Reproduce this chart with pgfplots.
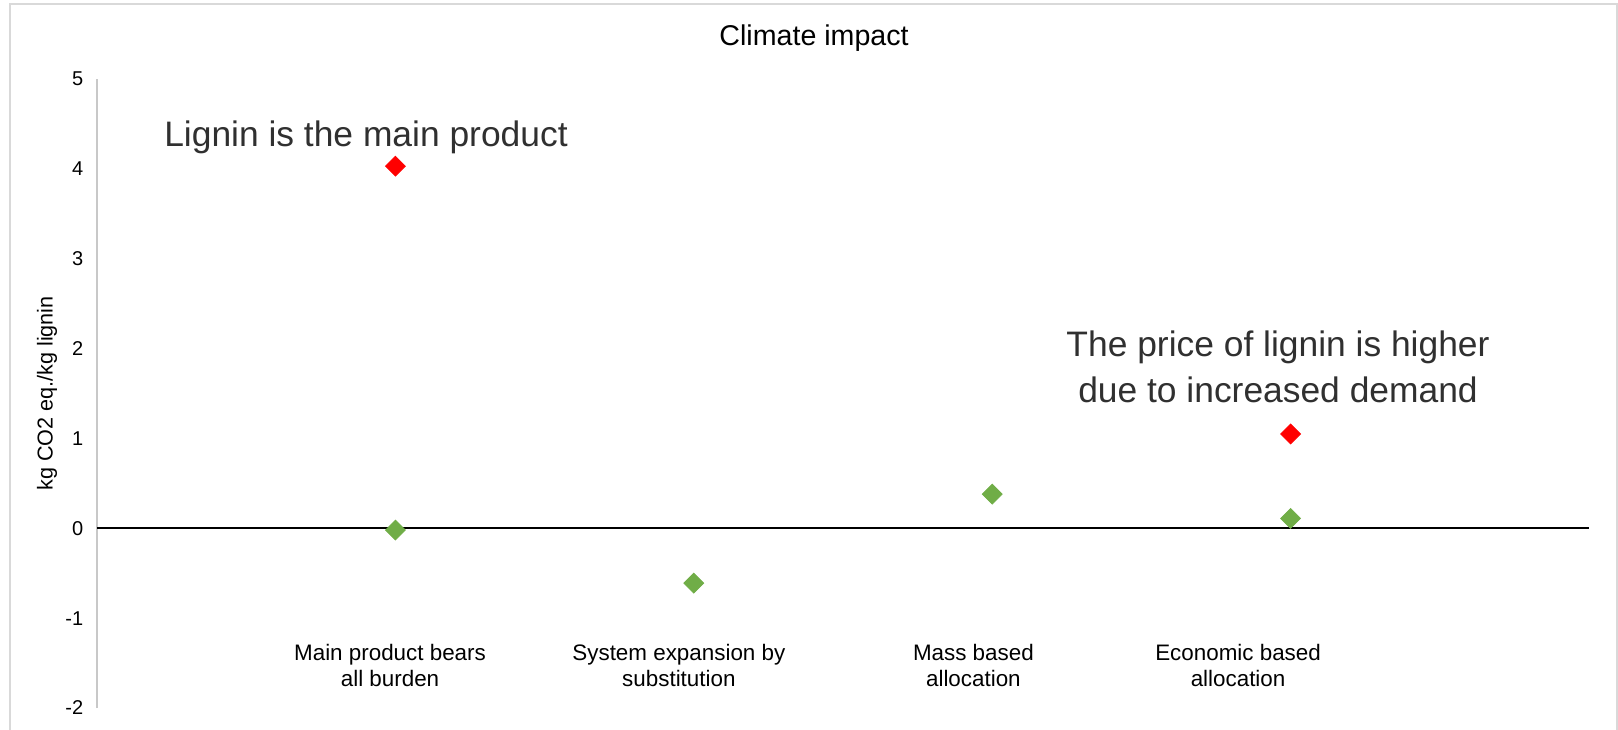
\documentclass[border=0pt]{standalone}
\usepackage{fontspec}
\setmainfont{Liberation Sans}
\usepackage{pgfplots}
\pgfplotsset{compat=1.18}
\definecolor{mgreen}{HTML}{70AD47}
\definecolor{mred}{HTML}{FF0000}
\definecolor{framec}{HTML}{D9D9D9}
\definecolor{ytax}{HTML}{C8C8C8}
\definecolor{annot}{HTML}{303030}
\begin{document}
\begin{tikzpicture}
\useasboundingbox (0,0) rectangle (809pt,364.5pt);
\draw[framec, line width=1pt] (5pt,-3pt) -- (5pt,362.5pt) -- (808.5pt,362.5pt) -- (808.5pt,-3pt);
\begin{axis}[
  at={(48.5pt,10.5pt)}, anchor=south west,
  scale only axis, width=746pt, height=314.5pt,
  xmin=0, xmax=5, ymin=-2, ymax=5,
  axis x line*=bottom, axis y line*=left,
  x axis line style={draw=none},
  y axis line style={ytax, line width=1pt},
  ytick={-2,-1,0,1,2,3,4,5},
  xtick={0.982,1.95,2.937,3.824},
  xticklabels={{Main product bears\\all burden},{System expansion by\\substitution},{Mass based\\allocation},{Economic based\\allocation}},
  major tick length=0pt,
  /pgf/number format/assume math mode=true,
  yticklabel style={font=\fontsize{10}{12}\selectfont, anchor=east, xshift=-3.4pt},
  xticklabel style={font=\fontsize{11.2}{13}\selectfont, align=center, anchor=center, yshift=21.5pt},
  ylabel={kg CO2 eq./kg lignin},
  ylabel style={font=\fontsize{10.8}{13}\selectfont, at={(axis description cs:-0.0335,0.5)}, anchor=center},
  title={Climate impact},
  every axis title shift=0pt,
  title style={font=\fontsize{14.3}{17}\selectfont, at={(axis description cs:0.4806,1.0525)}, anchor=base, yshift=0pt},
  clip=false,
]
\addplot[black, line width=1pt, forget plot] coordinates {(0,0) (5,0)};
\addplot[only marks, mark=square*, mark size=3.5pt, mark options={rotate=45, draw=mgreen, fill=mgreen}] coordinates {
(1,-0.02) (2,-0.61) (3,0.38) (4,0.11)
};
\addplot[only marks, mark=square*, mark size=3.5pt, mark options={rotate=45, draw=mred, fill=mred}] coordinates {
(1,4.03) (4,1.05)
};
\end{axis}
\node[anchor=base, text=annot, font=\fontsize{17.7}{21}\selectfont, inner sep=0pt] at (183pt,291pt) {Lignin is the main product};
\node[anchor=base, text=annot, font=\fontsize{17.7}{21}\selectfont, inner sep=0pt] at (639pt,186pt) {The price of lignin is higher};
\node[anchor=base, text=annot, font=\fontsize{17.7}{21}\selectfont, inner sep=0pt] at (639pt,163pt) {due to increased demand};
\end{tikzpicture}
\end{document}
